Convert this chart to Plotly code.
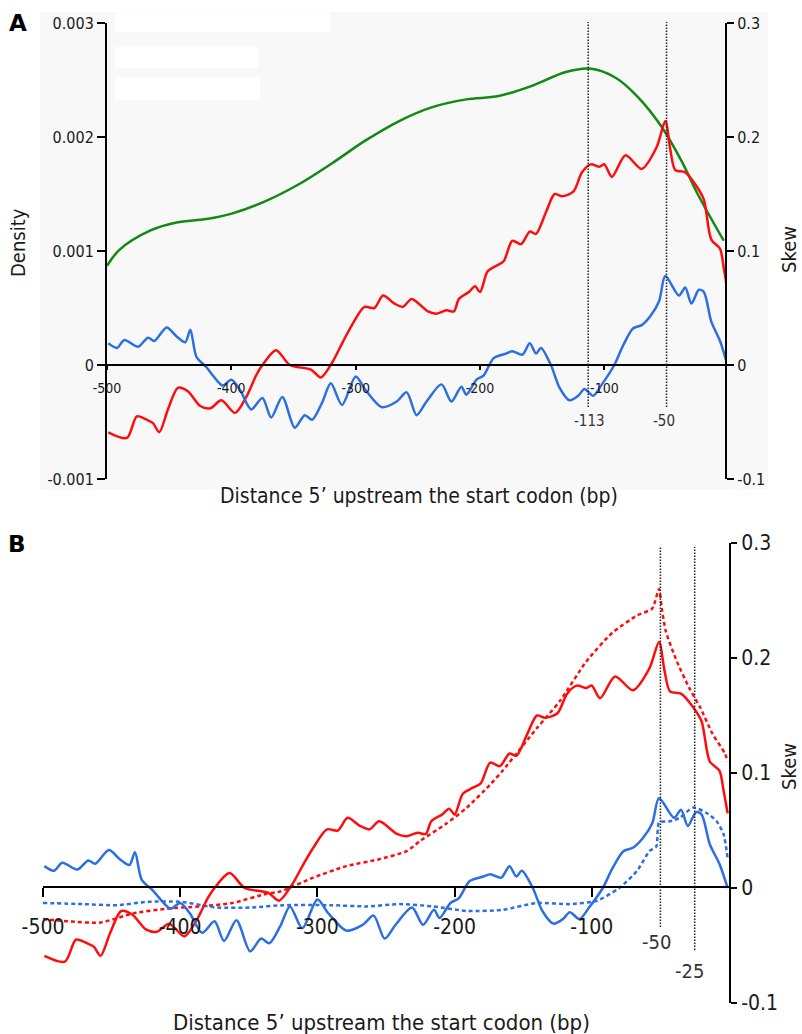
import plotly.graph_objects as go

W, H = 802, 1034

# ---------------- data ----------------
# Panel A: density of positions (left axis)
dens_x = [-500, -490, -465, -444, -420, -399, -372, -345, -319, -292, -265, -239,
          -211, -185, -158, -131, -112, -91, -73, -54, -38, -25, -4]
dens_y = [0.00087, 0.00101, 0.00118, 0.00125, 0.00128, 0.00133, 0.00144, 0.00159,
          0.00177, 0.00197, 0.00214, 0.00226, 0.00233, 0.00236, 0.00245, 0.00257,
          0.00260, 0.00252, 0.00235, 0.00209, 0.00179, 0.00150, 0.00109]

# Skew (red) - shared by both panels
red_x = [-499, -484, -476, -468, -463, -458, -451, -443, -435, -425, -417, -408,
         -397, -388, -380, -375, -364, -353, -336, -328, -319, -310, -303, -293,
         -285, -278, -269, -262, -255, -242, -235, -227, -221, -217, -209, -204,
         -200, -194, -187, -181, -174, -167, -160, -155, -147, -140, -134, -125,
         -118, -111, -104, -100, -94, -83, -70, -58, -51, -47, -43, -35, -26, -20,
         -14, -7, -4, -1]
red_y = [-0.059, -0.064, -0.045, -0.048, -0.051, -0.059, -0.039, -0.020, -0.023,
         -0.036, -0.038, -0.031, -0.042, -0.028, -0.009, 0.000, 0.013, 0.000,
         -0.004, -0.011, 0.002, 0.021, 0.035, 0.051, 0.050, 0.061, 0.054, 0.051,
         0.058, 0.047, 0.045, 0.048, 0.047, 0.058, 0.064, 0.069, 0.064, 0.082,
         0.087, 0.091, 0.109, 0.106, 0.117, 0.115, 0.134, 0.150, 0.148, 0.152,
         0.169, 0.176, 0.174, 0.176, 0.165, 0.184, 0.172, 0.191, 0.214, 0.189,
         0.171, 0.169, 0.157, 0.145, 0.110, 0.102, 0.085, 0.065]

# Skew (blue) - shared by both panels
blue_x = [-499, -492, -486, -475, -467, -462, -452, -444, -437, -433, -428, -420,
          -415, -407, -400, -393, -384, -375, -368, -359, -349, -341, -335, -327,
          -320, -311, -300, -292, -279, -267, -259, -251, -243, -231, -223, -215,
          -211, -203, -197, -189, -179, -174, -166, -160, -155, -151, -143, -136,
          -128, -121, -116, -109, -102, -92, -85, -77, -70, -63, -56, -51, -40,
          -35, -30, -24, -20, -14, -7, -1]
blue_y = [0.019, 0.015, 0.022, 0.016, 0.024, 0.021, 0.033, 0.025, 0.020, 0.031,
          0.007, -0.002, -0.009, -0.018, -0.013, -0.022, -0.039, -0.029, -0.046,
          -0.028, -0.055, -0.044, -0.048, -0.033, -0.016, -0.035, -0.010, -0.022,
          -0.037, -0.032, -0.024, -0.044, -0.032, -0.017, -0.032, -0.019, -0.026,
          -0.013, -0.009, 0.006, 0.010, 0.012, 0.009, 0.019, 0.010, 0.015, 0.000,
          -0.020, -0.031, -0.027, -0.021, -0.027, -0.017, 0.000, 0.017, 0.032,
          0.035, 0.043, 0.056, 0.078, 0.061, 0.068, 0.054, 0.066, 0.064, 0.038,
          0.021, 0.000]

# Panel B dotted (expected) curves
red_dot_x = [-500, -482, -458, -434, -410, -386, -362, -337, -327, -303, -279, -255,
             -235, -225, -206, -191, -174, -165, -140, -123, -104, -85, -67, -56,
             -51, -49, -46, -38, -29, -21, -12, -3, -1]
red_dot_y = [-0.027, -0.029, -0.030, -0.022, -0.018, -0.016, -0.013, -0.005, -0.003,
             0.009, 0.019, 0.025, 0.032, 0.041, 0.056, 0.070, 0.090, 0.102, 0.139,
             0.163, 0.197, 0.222, 0.237, 0.243, 0.260, 0.243, 0.223, 0.197, 0.174,
             0.157, 0.134, 0.117, 0.110]

blue_dot_x = [-500, -471, -446, -424, -400, -373, -349, -325, -289, -264, -240, -216,
              -191, -165, -140, -116, -96, -80, -67, -58, -53, -51, -43, -36, -26,
              -16, -9, -4, -1]
blue_dot_y = [-0.013, -0.014, -0.015, -0.012, -0.012, -0.017, -0.017, -0.015, -0.015,
              -0.016, -0.014, -0.016, -0.020, -0.019, -0.013, -0.014, -0.011, 0.000,
              0.015, 0.032, 0.036, 0.057, 0.058, 0.061, 0.070, 0.065, 0.058, 0.047,
              0.026]

x_ticks = [-500, -400, -300, -200, -100]
x_tick_text = ["-500", "-400", "-300", "-200", "-100"]
dens_ticks = [-0.001, 0, 0.001, 0.002, 0.003]
dens_tick_text = ["-0.001", "0", "0.001", "0.002", "0.003"]
skew_ticks = [-0.1, 0, 0.1, 0.2, 0.3]
skew_tick_text = ["-0.1", "0", "0.1", "0.2", "0.3"]
marks_a = [-113, -50]
marks_b = [-50, -25]
x_title = "Distance 5\u2019 upstream the start codon (bp)"

# ---------------- styling ----------------
FONT = "DejaVu Sans Condensed, DejaVu Sans, sans-serif"
RED = "#ff0d0d"
BLUE = "#2b6fe3"
GREEN = "#128a12"
TXT = "#1a1a1a"


def fx(p):
    return p / W


def fy(p):
    return 1 - p / H


fig = go.Figure()

# Panel A
fig.add_trace(go.Scatter(x=dens_x, y=dens_y, xaxis="x", yaxis="y", mode="lines",
                         line=dict(color=GREEN, width=2.5, shape="spline", smoothing=1.0)))
fig.add_trace(go.Scatter(x=red_x, y=red_y, xaxis="x", yaxis="y2", mode="lines",
                         line=dict(color=RED, width=2.5, shape="spline", smoothing=0.8)))
fig.add_trace(go.Scatter(x=blue_x, y=blue_y, xaxis="x", yaxis="y2", mode="lines",
                         line=dict(color=BLUE, width=2.5, shape="spline", smoothing=0.8)))

# Panel B
fig.add_trace(go.Scatter(x=red_dot_x, y=red_dot_y, xaxis="x2", yaxis="y3", mode="lines",
                         line=dict(color=RED, width=2.5, dash="4px,3px", shape="spline", smoothing=0.6)))
fig.add_trace(go.Scatter(x=blue_dot_x, y=blue_dot_y, xaxis="x2", yaxis="y3", mode="lines",
                         line=dict(color=BLUE, width=2.5, dash="4px,3px", shape="spline", smoothing=0.6)))
fig.add_trace(go.Scatter(x=red_x, y=red_y, xaxis="x2", yaxis="y3", mode="lines",
                         line=dict(color=RED, width=2.5, shape="spline", smoothing=0.8)))
fig.add_trace(go.Scatter(x=blue_x, y=blue_y, xaxis="x2", yaxis="y3", mode="lines",
                         line=dict(color=BLUE, width=2.5, shape="spline", smoothing=0.8)))

common = dict(showgrid=False, zeroline=False, showline=True, linecolor="black",
              linewidth=2, tickcolor="black", automargin=False)

fig.update_layout(
    width=W, height=H,
    margin=dict(l=0, r=0, t=0, b=0, pad=0, autoexpand=False),
    paper_bgcolor="white", plot_bgcolor="rgba(0,0,0,0)",
    showlegend=False, font=dict(family=FONT, color=TXT),
    xaxis=dict(domain=[fx(107), fx(725)], range=[-500, -3], anchor="free",
               position=fy(365), ticks="outside", ticklen=4, tickwidth=1.5,
               tickvals=x_ticks, ticktext=x_tick_text, ticklabelstandoff=6,
               tickfont=dict(family=FONT, size=14, color=TXT), **common),
    yaxis=dict(domain=[fy(479), fy(23)], range=[-0.001, 0.003], anchor="x",
               side="left", ticks="outside", ticklen=8, tickwidth=1.5,
               tickvals=dens_ticks, ticktext=dens_tick_text,
               tickfont=dict(family=FONT, size=16, color=TXT), **common),
    yaxis2=dict(overlaying="y", anchor="x", side="right", range=[-0.1, 0.3],
                ticks="outside", ticklen=7, tickwidth=1.5,
                tickvals=skew_ticks, ticktext=skew_tick_text,
                tickfont=dict(family=FONT, size=16, color=TXT), **common),
    xaxis2=dict(domain=[fx(43), fx(729)], range=[-500, 0], anchor="free",
                position=fy(887), ticks="outside", ticklen=9, tickwidth=2,
                tickvals=x_ticks, ticktext=x_tick_text, ticklabelstandoff=12,
                tickfont=dict(family=FONT, size=21, color=TXT), **common),
    yaxis3=dict(domain=[fy(1003), fy(543)], range=[-0.1, 0.3], anchor="x2",
                side="right", ticks="outside", ticklen=6, tickwidth=2,
                tickvals=skew_ticks, ticktext=skew_tick_text,
                tickfont=dict(family=FONT, size=21, color=TXT), **common),
    yaxis4=dict(overlaying="y3", anchor="x2", side="right", range=[-0.1, 0.3],
                ticks="inside", ticklen=6, tickwidth=2, tickcolor="black",
                tickvals=skew_ticks, showticklabels=False, showline=False,
                showgrid=False, zeroline=False, automargin=False),
)

shapes = [
    # light grey panel background of A
    dict(type="rect", xref="paper", yref="paper", x0=fx(40), x1=fx(768),
         y0=fy(490), y1=fy(12), fillcolor="#f8f8f8", line=dict(width=0), layer="below"),
]
for (a, b, c, d) in [(115, 330, 13, 32), (115, 258, 47, 68), (115, 260, 77, 100)]:
    shapes.append(dict(type="rect", xref="paper", yref="paper", x0=fx(a), x1=fx(b),
                       y0=fy(d), y1=fy(c), fillcolor="white", line=dict(width=0),
                       layer="below"))
for m in marks_a:
    shapes.append(dict(type="line", xref="x", yref="paper", x0=m, x1=m,
                       y0=fy(407), y1=fy(22),
                       line=dict(color="#222", width=1.5, dash="1.5px,1.5px")))
bottoms_b = {-50: 927, -25: 950}
for m in marks_b:
    shapes.append(dict(type="line", xref="x2", yref="paper", x0=m, x1=m,
                       y0=fy(bottoms_b[m]), y1=fy(547),
                       line=dict(color="#222", width=1.5, dash="1.5px,1.5px")))
fig.update_layout(shapes=shapes)

ann = []


def add_text(text, px, py, size, angle=0, bold=False, color=TXT):
    ann.append(dict(text=("<b>%s</b>" % text) if bold else text, xref="paper",
                    yref="paper", x=fx(px), y=fy(py), xanchor="center",
                    yanchor="middle", showarrow=False, textangle=angle,
                    font=dict(family=FONT if not bold else "DejaVu Sans, sans-serif",
                              size=size, color=color)))


add_text("A", 18, 23, 23, bold=True, color="black")
add_text("B", 17, 544, 23, bold=True, color="black")
add_text("Density", 18, 243, 20, angle=-90)
add_text("Skew", 789, 250, 20, angle=-90)
add_text(x_title, 419, 496, 21)
add_text("-113", 589, 421, 15, color="#333")
add_text("-50", 664, 421, 15, color="#333")
add_text("Skew", 789, 767, 20, angle=-90)
add_text(x_title, 381, 1022, 22)
add_text("-50", 656, 942, 20, color="#333")
add_text("-25", 689, 971, 20, color="#333")
fig.update_layout(annotations=ann)

fig.write_html("out.html")
